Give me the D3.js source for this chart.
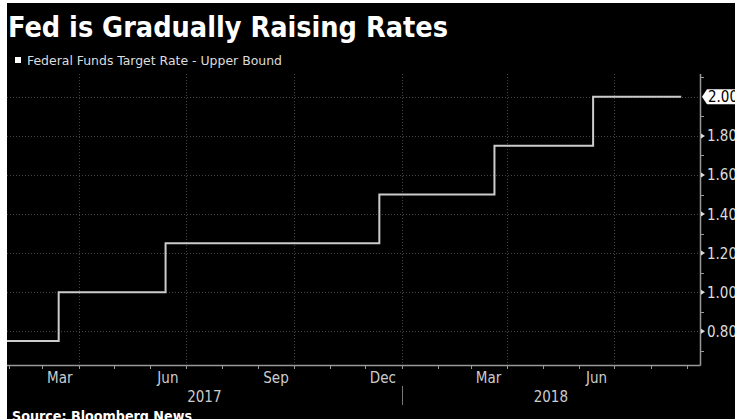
<!DOCTYPE html>
<html>
<head>
<meta charset="utf-8">
<script src="https://cdn.jsdelivr.net/npm/d3@7"></script>
<style>
  body { margin: 0; background: #fff; }
  svg { display: block; }
</style>
</head>
<body>
<svg id="chart" width="735" height="419"></svg>
<script>
// rate changes (effective step dates) and upper bound values
let stepDates = ["2017-01-30", "2017-03-15", "2017-06-14", "2017-12-13", "2018-03-21", "2018-06-13", "2018-08-27"];
let stepRates = [0.75, 1.00, 1.25, 1.50, 1.75, 2.00, 2.00];
let yTicks = [0.8, 1.0, 1.2, 1.4, 1.6, 1.8, 2.0];
let monthLabels = ["Mar", "Jun", "Sep", "Dec"];
let years = ["2017", "2018"];

let parse = d3.timeParse("%Y-%m-%d");
let data = stepDates.map((d, i) => ({ date: parse(d), rate: stepRates[i] }));

let svg = d3.select("#chart");
let plotLeft = 7, plotRight = 700, plotTop = 74, plotBottom = 365;

// black panel with thin white margin top/left like the screenshot
svg.append("rect").attr("x", 7).attr("y", 3).attr("width", 728).attr("height", 416).attr("fill", "#000");

let x = d3.scaleTime()
    .domain([parse("2017-01-30"), parse("2018-09-12")])
    .range([plotLeft, plotRight]);
let y = d3.scaleLinear().domain([0.627, 2.117]).range([plotBottom, plotTop]);

let font = "'DejaVu Sans Condensed', 'DejaVu Sans', sans-serif";

// title + legend
svg.append("text").attr("x", 8).attr("y", 37)
    .attr("fill", "#fff").attr("font-family", font).attr("font-weight", "bold")
    .attr("font-size", 28).attr("textLength", 440).attr("lengthAdjust", "spacingAndGlyphs")
    .text("Fed is Gradually Raising Rates");
svg.append("rect").attr("x", 15).attr("y", 57).attr("width", 6).attr("height", 6).attr("fill", "#fff");
svg.append("text").attr("x", 27).attr("y", 65)
    .attr("fill", "#ddd").attr("font-family", font).attr("font-size", 13)
    .attr("textLength", 255).attr("lengthAdjust", "spacingAndGlyphs")
    .text("Federal Funds Target Rate - Upper Bound");

// grid
let grid = svg.append("g").attr("stroke", "#444").attr("stroke-width", 1).attr("stroke-dasharray", "1,2");
grid.selectAll("line.h").data(yTicks).enter().append("line")
    .attr("x1", plotLeft).attr("x2", plotRight)
    .attr("y1", d => Math.round(y(d)) + 0.5).attr("y2", d => Math.round(y(d)) + 0.5);
let quarters = d3.timeMonth.every(3).range(parse("2017-04-01"), parse("2018-09-01"));
grid.selectAll("line.v").data(quarters).enter().append("line")
    .attr("x1", d => Math.round(x(d)) + 0.5).attr("x2", d => Math.round(x(d)) + 0.5)
    .attr("y1", plotTop).attr("y2", plotBottom);

// step line
let line = d3.line()
    .x(d => x(d.date))
    .y(d => y(d.rate))
    .curve(d3.curveStepAfter);
svg.append("path").datum(data)
    .attr("d", line)
    .attr("fill", "none")
    .attr("stroke", "#ccc")
    .attr("stroke-width", 2);

// axes lines
let axisColor = "#999";
svg.append("line").attr("x1", plotLeft).attr("x2", plotRight + 0.5).attr("y1", plotBottom + 0.5).attr("y2", plotBottom + 0.5)
    .attr("stroke", axisColor).attr("stroke-width", 1.5);
svg.append("line").attr("x1", plotRight + 0.5).attr("x2", plotRight + 0.5).attr("y1", plotTop).attr("y2", plotBottom + 0.5)
    .attr("stroke", axisColor).attr("stroke-width", 1.5);

// x month ticks
let months = d3.timeMonth.range(parse("2017-02-01"), parse("2018-09-10"));
svg.append("g").selectAll("line").data(months).enter().append("line")
    .attr("x1", d => Math.round(x(d)) + 0.5).attr("x2", d => Math.round(x(d)) + 0.5)
    .attr("y1", plotBottom).attr("y2", plotBottom + 4)
    .attr("stroke", axisColor);

// month labels centred in their month, only for whole months inside the axis
let labelMonths = months.filter(d => monthLabels.includes(d3.timeFormat("%b")(d))
    && d3.timeMonth.offset(d, 1) <= x.domain()[1]);
svg.append("g").selectAll("text").data(labelMonths).enter().append("text")
    .attr("x", d => x(new Date(d.getFullYear(), d.getMonth(), 16)))
    .attr("y", 383)
    .attr("text-anchor", "middle")
    .attr("fill", "#ccc").attr("font-family", font).attr("font-size", 15)
    .text(d => d3.timeFormat("%b")(d));

// years
let yearStart = [parse("2017-01-30"), parse("2018-01-01")];
let yearEnd = [parse("2018-01-01"), parse("2018-09-12")];
svg.append("g").selectAll("text").data(years).enter().append("text")
    .attr("x", (d, i) => (x(yearStart[i]) + x(yearEnd[i])) / 2)
    .attr("y", 402)
    .attr("text-anchor", "middle")
    .attr("fill", "#ccc").attr("font-family", font).attr("font-size", 15)
    .text(d => d);
svg.append("line")
    .attr("x1", Math.round(x(parse("2018-01-01"))) + 0.5).attr("x2", Math.round(x(parse("2018-01-01"))) + 0.5)
    .attr("y1", 386).attr("y2", 405)
    .attr("stroke", "#777");

// y minor ticks
let minor = d3.range(0.7, 2.15, 0.2);
svg.append("g").selectAll("line").data(minor).enter().append("line")
    .attr("x1", plotRight).attr("x2", plotRight + 4)
    .attr("y1", d => Math.round(y(d)) + 0.5).attr("y2", d => Math.round(y(d)) + 0.5)
    .attr("stroke", axisColor);

// y major markers + labels (cut by the right edge, as in the source image)
let yLab = svg.append("g");
yTicks.filter(d => d < 2).forEach(d => {
    let yy = y(d);
    yLab.append("path")
        .attr("d", `M${plotRight + 1},${yy - 2.5} L${plotRight + 5},${yy} L${plotRight + 1},${yy + 2.5} Z`)
        .attr("fill", "#ddd");
    yLab.append("text").attr("x", 707).attr("y", yy + 5.5)
        .attr("fill", "#ddd").attr("font-family", font).attr("font-size", 15)
        .text(d.toFixed(2));
});

// last value flag
let lastY = y(stepRates[stepRates.length - 1]);
yLab.append("path")
    .attr("d", `M${plotRight + 2},${lastY} L${plotRight + 7},${lastY - 7.5} L736,${lastY - 7.5} L736,${lastY + 7.5} L${plotRight + 7},${lastY + 7.5} Z`)
    .attr("fill", "#fff");
yLab.append("text").attr("x", 708).attr("y", lastY + 5.5)
    .attr("fill", "#000").attr("font-family", font).attr("font-size", 15)
    .text(stepRates[stepRates.length - 1].toFixed(2));

// source
svg.append("text").attr("x", 12).attr("y", 421)
    .attr("fill", "#fff").attr("font-family", font).attr("font-weight", "bold")
    .attr("font-size", 14).attr("textLength", 180).attr("lengthAdjust", "spacingAndGlyphs")
    .text("Source: Bloomberg News");
</script>
</body>
</html>
